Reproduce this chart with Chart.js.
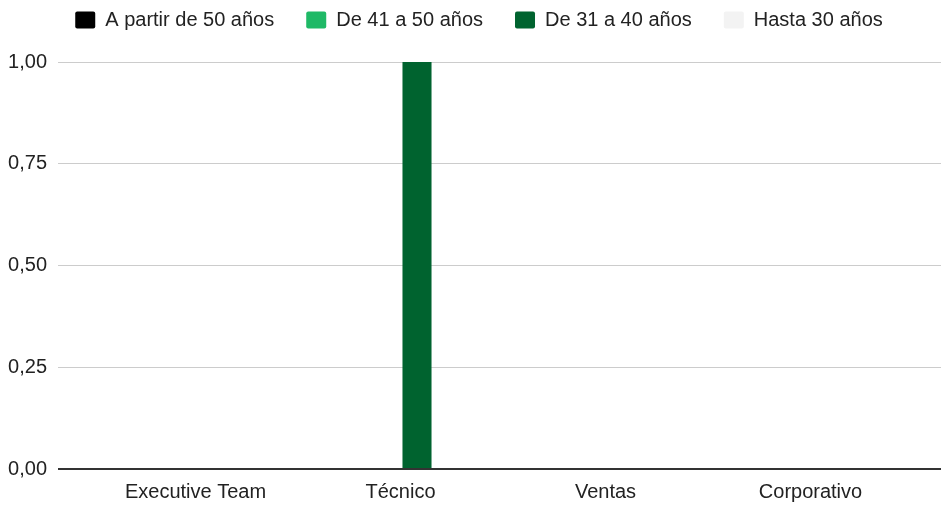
<!DOCTYPE html>
<html>
<head>
<meta charset="utf-8">
<script src="https://cdn.jsdelivr.net/npm/chart.js@4/dist/chart.umd.min.js"></script>
<style>
  html, body { margin: 0; padding: 0; background: #fff; }
  #wrap { width: 941px; height: 506px; }
</style>
</head>
<body>
<div id="wrap"><canvas id="barChart"></canvas></div>
<script>
// datos
const categories = ['Executive Team', 'Técnico', 'Ventas', 'Corporativo'];
const seriesNames = ['A partir de 50 años', 'De 41 a 50 años', 'De 31 a 40 años', 'Hasta 30 años'];
const mas50 = [0, 0, 0, 0];
const de41a50 = [0, 0, 0, 0];
const de31a40 = [0, 1, 0, 0];
const hasta30 = [0, 0, 0, 0];
const yTickLabels = ['0,00', '0,25', '0,50', '0,75', '1,00'];

const colors = ['#000000', '#1fb966', '#00632f', '#f3f3f3'];
const seriesValues = [mas50, de41a50, de31a40, hasta30];

Chart.defaults.font.family = '"Liberation Sans", Arial, sans-serif';
Chart.defaults.font.size = 20;
Chart.defaults.color = '#222';

// ajusta la leyenda (alto y centrado)
const legendFix = {
  id: 'legendFix',
  beforeUpdate(chart) {
    const lg = chart.legend;
    if (!lg || lg._patched) return;
    const fit = lg.fit;
    lg.fit = function () {
      fit.call(this);
      this.height = 84;
      if (this.lineWidths && this.lineWidths.length) this.lineWidths[0] -= 17;
    };
    lg._patched = true;
  }
};

const gridColor = ctx => (ctx.tick && ctx.tick.value === 0) ? '#333333' : '#cccccc';
const gridWidth = ctx => (ctx.tick && ctx.tick.value === 0) ? 2 : 1;

const ctxBar = document.getElementById('barChart').getContext('2d');
new Chart(ctxBar, {
  type: 'bar',
  data: {
    labels: categories,
    datasets: seriesNames.map((name, i) => ({
      label: name,
      data: seriesValues[i],
      backgroundColor: colors[i],
      borderWidth: 0,
      categoryPercentage: 0.644,
      barPercentage: 0.88
    }))
  },
  options: {
    responsive: true,
    maintainAspectRatio: false,
    animation: false,
    layout: { padding: { top: -22, left: 0, right: 0, bottom: 0 } },
    plugins: {
      legend: {
        position: 'top',
        labels: {
          boxWidth: 20,
          boxHeight: 17,
          padding: 32,
          color: '#222',
          font: { size: 20 },
          useBorderRadius: true,
          borderRadius: 2
        }
      },
      tooltip: { enabled: false }
    },
    scales: {
      x: {
        grid: { display: false },
        border: { display: false },
        ticks: { color: '#222', padding: 3, maxRotation: 0 },
        afterFit: s => { s.height = 37; }
      },
      y: {
        position: 'left',
        min: 0,
        max: 1,
        ticks: {
          stepSize: 0.25,
          color: '#222',
          padding: 11,
          callback: (v, i) => yTickLabels[i]
        },
        grid: { color: gridColor, tickColor: gridColor, lineWidth: gridWidth, tickWidth: gridWidth, tickLength: 35 },
        border: { display: false },
        afterFit: s => { s.width = 93; }
      },
      y2: {
        position: 'right',
        min: 0,
        max: 1,
        ticks: { stepSize: 0.25, display: false },
        grid: { drawOnChartArea: false, color: gridColor, tickColor: gridColor, lineWidth: gridWidth, tickWidth: gridWidth, tickLength: 28 },
        border: { display: false },
        afterFit: s => { s.width = 28; }
      }
    }
  },
  plugins: [legendFix]
});
</script>
</body>
</html>
